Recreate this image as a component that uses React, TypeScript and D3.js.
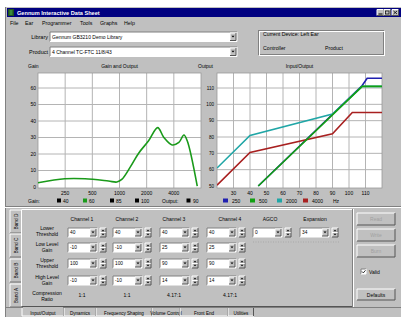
import React from 'react';
import * as d3 from 'd3';

const W = 401, H = 317;
const FONT = '"Liberation Sans", Arial, sans-serif';
const GRAY = '#c0c0c0';

const titleText = 'Gennum Interactive Data Sheet';
const menuItems = ['File', 'Ear', 'Programmer', 'Tools', 'Graphs', 'Help'];
const libraryText = 'Gennum GB3210 Demo Library';
const productText = '4 Channel TC-FTC 11/8/43';

// Gain and Output chart
const gainTicks = [0, 10, 20, 30, 40, 50, 60];
const freqTicks = [250, 500, 1000, 2000, 4000];
const gainFreqs = [125, 248, 415, 755, 935, 1060, 1330, 1630, 2100, 2650, 3100, 3830, 4550, 5170, 5630, 7270];
const gainValues = [2.6, 5.0, 5.0, 3.6, 3.0, 4.6, 12.5, 20.5, 28, 36, 30, 25.5, 27, 31.5, 28, 0.5];
const gainLegendLabels = ['40', '60', '85', '100'];
const gainLegendColors = ['#000', '#1a9a1a', '#000', '#000'];
const outputLegendLabel = '90';

// Input/Output chart
const ioXTicks = [30, 40, 50, 60, 70, 80, 90, 100, 110];
const ioYTicks = [50, 60, 70, 80, 90, 100, 110];
const ioLabels = ['250', '500', '2000', '4000'];
const ioColors = ['#2020b0', '#12a012', '#20a6a6', '#a82020'];
const io250In = [45, 108, 111, 120];
const io250Out = [50, 111.5, 116, 116];
const io500In = [45, 108, 120];
const io500Out = [50, 111, 111];
const io2000In = [20, 40, 90, 108, 120];
const io2000Out = [61, 81, 94, 111, 111];
const io4000In = [20, 40, 90, 102, 120];
const io4000Out = [50.5, 70.5, 82, 95, 95];

// Bottom panel
const channelHeaders = ['Channel 1', 'Channel 2', 'Channel 3', 'Channel 4', 'AGCO', 'Expansion'];
const rowLabels = [['Lower', 'Threshold'], ['Low Level', 'Gain'], ['Upper', 'Threshold'], ['High Level', 'Gain'], ['Compression', 'Ratio']];
const ch1Values = ['40', '-10', '100', '-10'];
const ch2Values = ['40', '-10', '100', '-10'];
const ch3Values = ['40', '25', '90', '14'];
const ch4Values = ['40', '25', '90', '14'];
const agcoValues = ['0'];
const expValues = ['34'];
const ratioValues = ['1:1', '1:1', '4.17:1', '4.17:1'];
const sideTabs = ['Band D', 'Band C', 'Band B', 'Band A'];
const bottomTabs = ['Input/Output', 'Dynamics', 'Frequency Shaping', 'Volume Control', 'Front End', 'Utilities'];
const bottomTabW = [42, 32, 56, 28, 48, 26];
const sideButtons = ['Read', 'Write', 'Burn'];

const T = (p: any) => <text fontFamily={FONT} fontSize={5.5} fill="#000" {...p} />;

function Sunken({ x, y, w, h, fill = '#fff' }: any) {
  return (
    <g>
      <rect x={x} y={y} width={w} height={h} fill={fill} />
      <path d={`M${x},${y + h} V${y} H${x + w}`} stroke="#808080" fill="none" strokeWidth={1} />
      <path d={`M${x},${y + h} H${x + w} V${y}`} stroke="#fff" fill="none" strokeWidth={1} />
    </g>
  );
}

function Raised({ x, y, w, h }: any) {
  return (
    <g>
      <rect x={x} y={y} width={w} height={h} fill={GRAY} />
      <path d={`M${x},${y + h} V${y} H${x + w}`} stroke="#fff" fill="none" strokeWidth={1} />
      <path d={`M${x},${y + h} H${x + w} V${y}`} stroke="#555" fill="none" strokeWidth={1} />
    </g>
  );
}

function Combo({ x, y, w, h, text, size = 5 }: any) {
  const bw = Math.min(6, h - 2);
  return (
    <g>
      <Sunken x={x} y={y} w={w} h={h} />
      <Raised x={x + w - bw - 1} y={y + 1} w={bw} h={h - 2} />
      <path d={`M${x + w - bw + 0.5},${y + h / 2 - 1} h${bw - 3} l${-(bw - 3) / 2},${1.8} z`} fill="#000" />
      <T x={x + 2} y={y + h / 2 + 1.8} fontSize={size}>{text}</T>
    </g>
  );
}

function Spin({ x, y, h }: any) {
  return (
    <g>
      <Raised x={x} y={y} w={6} h={h / 2} />
      <Raised x={x} y={y + h / 2} w={6} h={h / 2} />
      <path d={`M${x + 1.5},${y + h / 2 - 1.2} h3 l-1.5,-1.6 z`} fill="#000" />
      <path d={`M${x + 1.5},${y + h / 2 + 1.2} h3 l-1.5,1.6 z`} fill="#000" />
    </g>
  );
}

export default function App() {
  // left chart
  const lx0 = 38, lx1 = 201, ly0 = 73, ly1 = 188;
  const fx = d3.scaleLog().domain([125, 8000]).range([lx0, lx1]);
  const gy = d3.scaleLinear().domain([0, 60]).range([187, 88]);
  const gainLine = d3.line<number>().x((_, i) => fx(gainFreqs[i])).y((d) => gy(d)).curve(d3.curveCatmullRom.alpha(0.5));

  // right chart
  const rx0 = 217, rx1 = 382, ry0 = 73, ry1 = 188;
  const ix = d3.scaleLinear().domain([20, 120]).range([rx0, rx1]);
  const oy = d3.scaleLinear().domain([50, 110]).range([186, 88]);
  const ioLine = (xs: number[], ys: number[]) =>
    d3.line<number>().x((d) => ix(d)).y((_, i) => oy(ys[i]))(xs) as string;
  const ioSeries = [
    { xs: io250In, ys: io250Out, c: ioColors[0] },
    { xs: io2000In, ys: io2000Out, c: ioColors[2] },
    { xs: io4000In, ys: io4000Out, c: ioColors[3] },
    { xs: io500In, ys: io500Out, c: ioColors[1] },
  ];

  const colX = [68, 113, 160, 207, 253, 300];
  const colW = 29;
  const rowY = [228, 243, 259, 276];
  const colVals = [ch1Values, ch2Values, ch3Values, ch4Values, agcoValues, expValues];
  const headerX = [82, 127, 174, 230, 270, 315];

  let tabX = 22;
  const tabs = bottomTabs.map((t, i) => {
    const x = tabX;
    tabX += bottomTabW[i];
    return { t, x, w: bottomTabW[i] };
  });

  return (
    <svg width={W} height={H} style={{ position: 'absolute', left: 0, top: 0 }}>
      <rect x={0} y={0} width={W} height={H} fill="#fff" />
      {/* window */}
      <rect x={5} y={7} width={396} height={310} fill={GRAY} />
      <line x1={5.5} y1={7} x2={5.5} y2={317} stroke="#808080" />
      {/* title bar */}
      <rect x={7} y={8} width={394} height={9} fill="#000080" />
      <rect x={8} y={9} width={6} height={7} fill="#1e5020" />
      <rect x={9.5} y={10} width={3} height={5} fill="#3a8a3a" />
      <T x={17} y={15} fill="#fff" fontWeight="bold" fontSize={5.6}>{titleText}</T>
      {[377, 384, 392].map((x, i) => (
        <g key={i}>
          <Raised x={x} y={9.5} w={6.5} h={6} />
        </g>
      ))}
      <path d="M378.5,14 h4" stroke="#000" />
      <rect x={385.5} y={11} width={3.5} height={3} fill="none" stroke="#000" strokeWidth={0.7} />
      <path d="M393.5,11 l3.5,3 M397,11 l-3.5,3" stroke="#000" strokeWidth={0.8} />
      {/* menu */}
      {menuItems.map((m, i) => (
        <T key={m} x={[10, 25, 42, 80, 100, 124][i]} y={25} fontSize={5.3}>{m}</T>
      ))}
      {/* library & product */}
      <T x={48} y={39} textAnchor="end">Library</T>
      <Combo x={50} y={32} w={187} h={9.5} text={libraryText} />
      <T x={48} y={54} textAnchor="end">Product</T>
      <Combo x={50} y={47} w={187} h={9.5} text={productText} />
      {/* group box */}
      <rect x={258.5} y={30.5} width={125} height={24} fill="none" stroke="#808080" />
      <rect x={259.5} y={31.5} width={125} height={24} fill="none" stroke="#fff" />
      <T x={263} y={36} fontSize={5.2}>Current Device: Left Ear</T>
      <T x={263} y={50} fontSize={5.2}>Controller</T>
      <T x={325} y={50} fontSize={5.2}>Product</T>

      {/* left chart */}
      <T x={28} y={68} fontSize={5}>Gain</T>
      <T x={(lx0 + lx1) / 2} y={68} fontSize={5} textAnchor="middle">Gain and Output</T>
      <T x={198} y={68} fontSize={5}>Output</T>
      <rect x={lx0} y={ly0} width={lx1 - lx0} height={ly1 - ly0} fill="#fff" />
      {freqTicks.map((f) => (
        <line key={f} x1={fx(f)} x2={fx(f)} y1={ly0} y2={ly1} stroke="#b4b4b4" strokeWidth={1} />
      ))}
      {gainTicks.slice(1).map((g) => (
        <line key={g} x1={lx0} x2={lx1} y1={gy(g)} y2={gy(g)} stroke="#b4b4b4" strokeWidth={1} />
      ))}
      <rect x={lx0} y={ly0} width={lx1 - lx0} height={ly1 - ly0} fill="none" stroke="#9a9a9a" strokeWidth={0.8} />
      {gainTicks.map((g) => (
        <T key={g} x={lx0 - 2} y={gy(g) + 1.8} fontSize={5} textAnchor="end">{g}</T>
      ))}
      {freqTicks.map((f) => (
        <T key={f} x={fx(f)} y={195} fontSize={5} textAnchor="middle">{f}</T>
      ))}
      <path d={gainLine(gainValues) as string} fill="none" stroke="#1a9a1a" strokeWidth={1.6} />
      {/* left legend */}
      <T x={28} y={203} fontSize={5}>Gain:</T>
      {gainLegendLabels.map((l, i) => {
        const sx = [57, 83, 110, 135][i];
        return (
          <g key={l}>
            <rect x={sx} y={198.5} width={4} height={4} fill={gainLegendColors[i]} />
            <T x={sx + 6} y={203} fontSize={5}>{l}</T>
          </g>
        );
      })}
      <T x={162} y={203} fontSize={5}>Output:</T>
      <rect x={186.5} y={198.5} width={4} height={4} fill="#000" />
      <T x={193} y={203} fontSize={5}>{outputLegendLabel}</T>

      {/* right chart */}
      <T x={(rx0 + rx1) / 2} y={68} fontSize={5} textAnchor="middle">Input/Output</T>
      <rect x={rx0} y={ry0} width={rx1 - rx0} height={ry1 - ry0} fill="#fff" />
      {ioXTicks.map((v) => (
        <line key={v} x1={ix(v)} x2={ix(v)} y1={ry0} y2={ry1} stroke="#b4b4b4" strokeWidth={1} />
      ))}
      {ioYTicks.slice(1).map((v) => (
        <line key={v} x1={rx0} x2={rx1} y1={oy(v)} y2={oy(v)} stroke="#b4b4b4" strokeWidth={1} />
      ))}
      <rect x={rx0} y={ry0} width={rx1 - rx0} height={ry1 - ry0} fill="none" stroke="#9a9a9a" strokeWidth={0.8} />
      {ioYTicks.map((v) => (
        <T key={v} x={rx0 - 3} y={oy(v) + 1.8} fontSize={4.6} textAnchor="end">{v}</T>
      ))}
      {ioXTicks.map((v) => (
        <T key={v} x={ix(v)} y={195} fontSize={5} textAnchor="middle">{v}</T>
      ))}
      <defs>
        <clipPath id="ioclip">
          <rect x={rx0} y={ry0} width={rx1 - rx0} height={ry1 - ry0} />
        </clipPath>
      </defs>
      <g clipPath="url(#ioclip)">
        {ioSeries.map((s, i) => (
          <path key={i} d={ioLine(s.xs, s.ys)} fill="none" stroke={s.c} strokeWidth={1.6} />
        ))}
      </g>
      {/* right legend */}
      {ioLabels.map((l, i) => {
        const sx = [223, 250, 277, 303][i];
        return (
          <g key={l}>
            <rect x={sx} y={198.5} width={5} height={4} fill={ioColors[i]} />
            <T x={sx + 9} y={203} fontSize={5}>{l}</T>
          </g>
        );
      })}
      <T x={333} y={203} fontSize={5}>Hz</T>

      {/* bottom panel */}
      <line x1={5} x2={401} y1={206.5} y2={206.5} stroke="#808080" />
      <line x1={5} x2={401} y1={207.5} y2={207.5} stroke="#fff" />
      {/* side tabs */}
      {sideTabs.map((t, i) => {
        const y0 = [210, 234, 259, 284][i];
        const h = 23;
        return (
          <g key={t}>
            <path d={`M21,${y0} H10 V${y0 + h} H21`} fill={GRAY} stroke="#fff" />
            <path d={`M10,${y0 + h} H21`} stroke="#555" />
            <T x={0} y={0} fontSize={4.8} textAnchor="middle" transform={`translate(17.5,${y0 + h / 2}) rotate(-90)`}>{t}</T>
          </g>
        );
      })}
      {/* tab page border */}
      <path d="M21.5,306 V209.5 H352" fill="none" stroke="#fff" />
      <path d="M21.5,306.5 H352.5 V209" fill="none" stroke="#555" />
      <line x1={352.5} x2={352.5} y1={209} y2={307} stroke="#808080" />
      <line x1={353.5} x2={353.5} y1={209} y2={307} stroke="#fff" />
      {/* headers */}
      {channelHeaders.map((h, i) => (
        <T key={h} x={headerX[i]} y={221} fontSize={5} textAnchor="middle">{h}</T>
      ))}
      {rowLabels.map((r, i) => {
        const yc = [228, 244, 260, 277, 293][i];
        return (
          <g key={i}>
            <T x={47} y={yc + 2} fontSize={5} textAnchor="middle">{r[0]}</T>
            <T x={47} y={yc + 7.5} fontSize={5} textAnchor="middle">{r[1]}</T>
          </g>
        );
      })}
      {colVals.map((vals, ci) =>
        vals.map((v, ri) => (
          <g key={`${ci}-${ri}`}>
            <Combo x={colX[ci]} y={rowY[ri]} w={colW} h={9} text={v} size={4.8} />
            <Spin x={colX[ci] + colW + 3} y={rowY[ri]} h={9} />
          </g>
        ))
      )}
      <line x1={253} x2={340} y1={242} y2={242} stroke="#a8a8a8" strokeDasharray="1,1.5" />
      {ratioValues.map((r, i) => (
        <T key={i} x={headerX[i]} y={297} fontSize={5} textAnchor="middle">{r}</T>
      ))}
      {/* right buttons */}
      {sideButtons.map((b, i) => {
        const y0 = [213, 229, 245][i];
        return (
          <g key={b}>
            <Raised x={357} y={y0} w={38} h={12} />
            <T x={376} y={y0 + 8} fontSize={5} textAnchor="middle" fill="#a0a0a0">{b}</T>
          </g>
        );
      })}
      <Sunken x={361} y={269} w={5} h={5} />
      <path d="M362,271.5 l1.3,1.4 l2.2,-2.6" stroke="#000" fill="none" strokeWidth={0.8} />
      <T x={369} y={273.5} fontSize={5}>Valid</T>
      <Raised x={357} y={289} w={38} h={11} />
      <T x={376} y={296.5} fontSize={5} textAnchor="middle">Defaults</T>
      {/* bottom tabs */}
      <line x1={5} x2={401} y1={307.5} y2={307.5} stroke="#808080" />
      {tabs.map((t, i) => (
        <g key={t.t}>
          <path d={`M${t.x},308 V316 H${t.x + t.w}`} fill="none" stroke="#fff" />
          <path d={`M${t.x + t.w - 0.5},308 V316`} stroke="#555" />
          {i === 0 && <rect x={t.x + 1} y={307} width={t.w - 2} height={2} fill={GRAY} />}
          <T x={t.x + t.w / 2} y={314.5} fontSize={4.6} textAnchor="middle">{t.t}</T>
        </g>
      ))}
    </svg>
  );
}
